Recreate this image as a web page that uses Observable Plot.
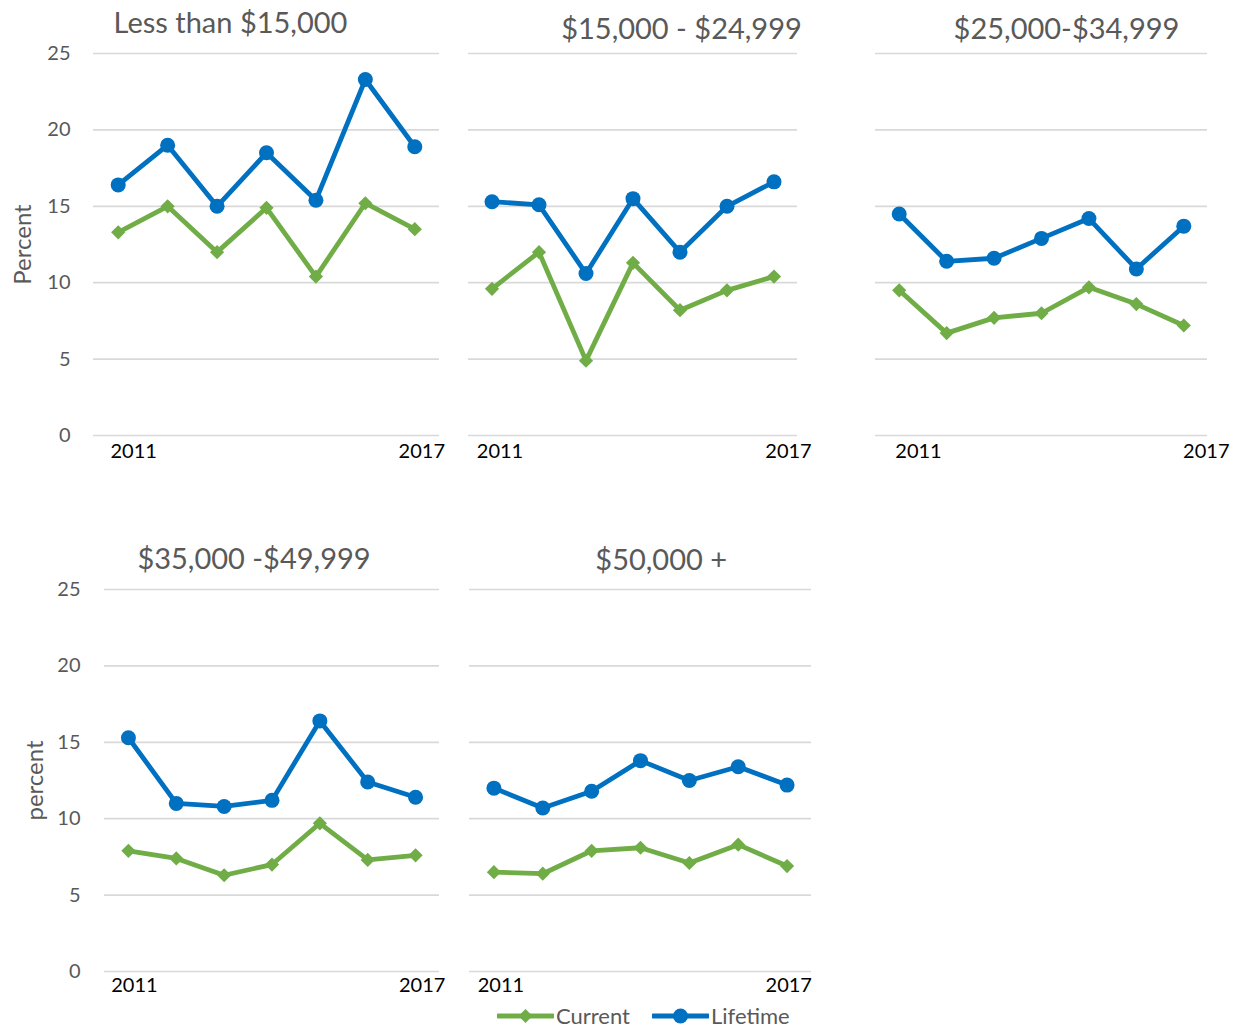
<!DOCTYPE html>
<html>
<head>
<meta charset="utf-8">
<script src="https://cdn.jsdelivr.net/npm/d3@7"></script>
<script src="https://cdn.jsdelivr.net/npm/@observablehq/plot@0.6"></script>
<style>
  html, body { margin: 0; padding: 0; background: #ffffff; }
  #page { position: relative; width: 1241px; height: 1028px; overflow: hidden; font-family: Lato, "Open Sans", sans-serif; }
  .cell { position: absolute; }
  .cell svg { display: block; max-width: none; }
  #legend { position: absolute; left: 497px; top: 1003px; height: 25px; display: flex; align-items: center;
            font-family: Lato, sans-serif; font-size: 22px; color: #595959; }
  #legend .item { display: flex; align-items: center; }
  #legend svg { display: block; }
</style>
</head>
<body>
<div id="page"></div>
<script>
// ---------------- data ----------------
const years = [2011, 2012, 2013, 2014, 2015, 2016, 2017];
const yTicks = [0, 5, 10, 15, 20, 25];
const seriesNames = ["Current", "Lifetime"];
const titles = ["Less than $15,000", "$15,000 - $24,999", "$25,000-$34,999", "$35,000 -$49,999", "$50,000 +"];
const yLabels = ["Percent", "percent"];

const currentLt15  = [13.3, 15.0, 12.0, 14.9, 10.4, 15.2, 13.5];
const lifetimeLt15 = [16.4, 19.0, 15.0, 18.5, 15.4, 23.3, 18.9];

const current15to25  = [9.6, 12.0, 4.9, 11.3, 8.2, 9.5, 10.4];
const lifetime15to25 = [15.3, 15.1, 10.6, 15.5, 12.0, 15.0, 16.6];

const current25to35  = [9.5, 6.7, 7.7, 8.0, 9.7, 8.6, 7.2];
const lifetime25to35 = [14.5, 11.4, 11.6, 12.9, 14.2, 10.9, 13.7];

const current35to50  = [7.9, 7.4, 6.3, 7.0, 9.7, 7.3, 7.6];
const lifetime35to50 = [15.3, 11.0, 10.8, 11.2, 16.4, 12.4, 11.4];

const current50plus  = [6.5, 6.4, 7.9, 8.1, 7.1, 8.3, 6.9];
const lifetime50plus = [12.0, 10.7, 11.8, 13.8, 12.5, 13.4, 12.2];

const GREEN = "#70AD47";
const BLUE = "#0070C0";
const GREY_TEXT = "#595959";
const GRID = "#d9d9d9";

// ---------------- panels ----------------
function toRows(values) {
  return years.map((year, i) => ({ year, value: values[i] }));
}

function panel(cfg) {
  const cur = toRows(cfg.current);
  const life = toRows(cfg.lifetime);
  const marks = [
    Plot.ruleY(yTicks, { stroke: GRID, strokeWidth: 1.7 }),
    Plot.text([cfg.title], {
      frameAnchor: "top", lineAnchor: "middle", textAnchor: "middle", dx: cfg.titleDx, dy: cfg.titleDy,
      fontSize: 29, fill: GREY_TEXT
    }),
    Plot.line(cur, { x: "year", y: "value", stroke: GREEN, strokeWidth: 4.8, strokeLinejoin: "round" }),
    Plot.dot(cur, { x: "year", y: "value", symbol: "diamond2", r: 6.4, fill: GREEN, stroke: "none" }),
    Plot.line(life, { x: "year", y: "value", stroke: BLUE, strokeWidth: 4.8, strokeLinejoin: "round" }),
    Plot.dot(life, { x: "year", y: "value", symbol: "circle", r: 7.5, fill: BLUE, stroke: "none" }),
    Plot.text([years[0]], {
      x: d => d, text: d => String(d), frameAnchor: "bottom", lineAnchor: "middle", textAnchor: "middle",
      dx: cfg.dxFirst, dy: cfg.xLabelDy, fontSize: 20, fill: "#000000"
    }),
    Plot.text([years[years.length - 1]], {
      x: d => d, text: d => String(d), frameAnchor: "bottom", lineAnchor: "middle", textAnchor: "middle",
      dx: cfg.dxLast, dy: cfg.xLabelDy, fontSize: 20, fill: "#000000"
    })
  ];
  if (cfg.yLabel) {
    marks.push(Plot.axisY(yTicks, {
      tickSize: 0, tickPadding: cfg.tickPadding, fontSize: 20, color: GREY_TEXT, label: null
    }));
    marks.push(Plot.text([cfg.yLabel], {
      frameAnchor: "left", textAnchor: "middle", lineAnchor: "middle", rotate: -90, dx: cfg.yLabelDx,
      fontSize: 24, fill: GREY_TEXT
    }));
  }
  const chart = Plot.plot({
    width: cfg.W, height: cfg.H,
    marginLeft: cfg.mL, marginRight: cfg.mR, marginTop: cfg.mT, marginBottom: cfg.mB,
    x: { domain: [2010.5, 2017.5], axis: null },
    y: { domain: [0, 25], axis: null },
    style: { fontFamily: "Lato, 'Open Sans', sans-serif", background: "transparent", overflow: "visible" },
    marks
  });
  const div = document.createElement("div");
  div.className = "cell";
  div.style.left = cfg.L + "px";
  div.style.top = cfg.T + "px";
  div.style.width = cfg.W + "px";
  div.style.height = cfg.H + "px";
  div.appendChild(chart);
  document.getElementById("page").appendChild(div);
}

panel({ title: titles[0], current: currentLt15, lifetime: lifetimeLt15,
  L: 0, T: 0, W: 450, H: 470, mL: 93, mR: 11, mT: 53, mB: 35,
  titleDx: -36, titleDy: -30, dxFirst: 15.5, dxLast: 7, xLabelDy: 16.5,
  yLabel: yLabels[0], yLabelDx: -70, tickPadding: 23 });

panel({ title: titles[1], current: current15to25, lifetime: lifetime15to25,
  L: 450, T: 0, W: 410, H: 470, mL: 18, mR: 63, mT: 53, mB: 35,
  titleDx: 48.5, titleDy: -23.5, dxFirst: 8, dxLast: 14.5, xLabelDy: 16.5 });

panel({ title: titles[2], current: current25to35, lifetime: lifetime25to35,
  L: 860, T: 0, W: 381, H: 470, mL: 15, mR: 34, mT: 53, mB: 35,
  titleDx: 25, titleDy: -23.5, dxFirst: 19.3, dxLast: 22.5, xLabelDy: 16.5 });

panel({ title: titles[3], current: current35to50, lifetime: lifetime35to50,
  L: 0, T: 520, W: 450, H: 500, mL: 104, mR: 11, mT: 69, mB: 49,
  titleDx: -18, titleDy: -29.3, dxFirst: 6, dxLast: 6.6, xLabelDy: 14,
  yLabel: yLabels[1], yLabelDx: -69, tickPadding: 24 });

panel({ title: titles[4], current: current50plus, lifetime: lifetime50plus,
  L: 450, T: 520, W: 410, H: 480, mL: 19, mR: 49, mT: 69, mB: 29,
  titleDx: 20.7, titleDy: -29, dxFirst: 7, dxLast: 1.7, xLabelDy: 14 });

// ---------------- legend ----------------
const legend = document.createElement("div");
legend.id = "legend";
const NS = "http://www.w3.org/2000/svg";
const legendSpecs = [
  { name: seriesNames[0], color: GREEN, marker: "diamond", gapAfter: 22 },
  { name: seriesNames[1], color: BLUE, marker: "circle", gapAfter: 0 }
];
legendSpecs.forEach(spec => {
  const item = document.createElement("div");
  item.className = "item";
  item.style.marginRight = spec.gapAfter + "px";
  const svg = document.createElementNS(NS, "svg");
  svg.setAttribute("width", 57);
  svg.setAttribute("height", 20);
  const line = document.createElementNS(NS, "line");
  line.setAttribute("x1", 1); line.setAttribute("x2", 56);
  line.setAttribute("y1", 10); line.setAttribute("y2", 10);
  line.setAttribute("stroke", spec.color); line.setAttribute("stroke-width", 4.8);
  line.setAttribute("stroke-linecap", "round");
  svg.appendChild(line);
  if (spec.marker === "circle") {
    const c = document.createElementNS(NS, "circle");
    c.setAttribute("cx", 28.5); c.setAttribute("cy", 10); c.setAttribute("r", 7.5);
    c.setAttribute("fill", spec.color);
    svg.appendChild(c);
  } else {
    const p = document.createElementNS(NS, "path");
    p.setAttribute("d", "M28.5,3 L35.5,10 L28.5,17 L21.5,10 Z");
    p.setAttribute("fill", spec.color);
    svg.appendChild(p);
  }
  item.appendChild(svg);
  const label = document.createElement("span");
  label.textContent = spec.name;
  label.style.marginLeft = "2px";
  item.appendChild(label);
  legend.appendChild(item);
});
document.getElementById("page").appendChild(legend);
</script>
</body>
</html>
